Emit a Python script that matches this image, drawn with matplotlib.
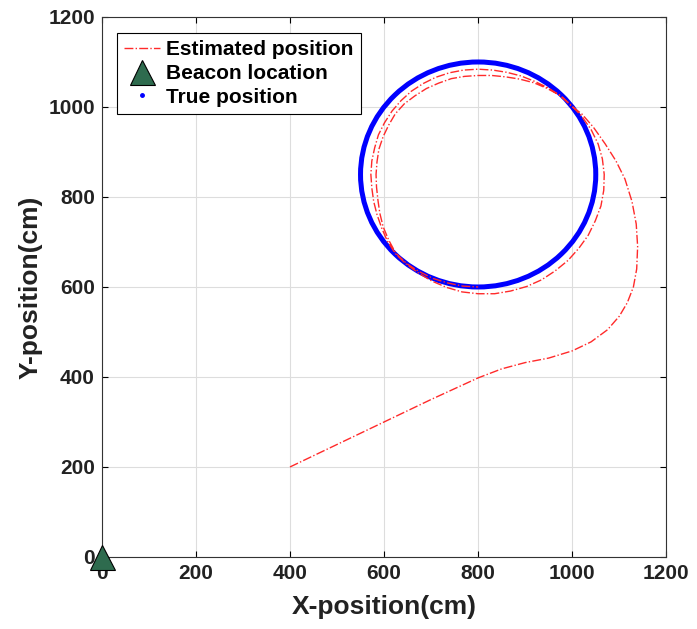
import matplotlib
matplotlib.use("Agg")
import matplotlib.pyplot as plt
from matplotlib.lines import Line2D
from matplotlib.patches import Circle

plt.rcParams['font.family'] = ['Liberation Sans', 'DejaVu Sans']
plt.rcParams['font.weight'] = 'bold'

# ---- data (cm) ----
# estimated trajectory: approach leg, then two loops around the true circle
est_x = [400, 500, 600, 700, 800, 850, 900, 950, 1000, 1040, 1075, 1100, 1117, 1130,
         1137, 1139, 1136, 1127, 1112, 1093, 1070, 1045, 1020,
         998, 975, 948, 920, 891, 861, 831, 800, 769, 739, 710, 683, 658, 636, 617, 601,
         588, 580, 574, 572, 574, 578, 585, 595, 607, 624, 647, 673, 702, 733, 766,
         800, 835, 869, 903, 935, 964, 991, 1014, 1034, 1049, 1061, 1067, 1068, 1064,
         1055, 1040, 1021, 999,
         975, 947, 918, 888, 858, 829, 800, 771, 743, 716, 690, 666, 643, 624, 610,
         598, 589, 585, 583, 584, 587, 591, 598, 610, 625, 648, 675, 704, 735, 767, 800]
est_y = [200, 250, 300, 350, 398, 418, 432, 442, 458, 478, 505, 535, 565, 600,
         640, 690, 740, 790, 840, 880, 918, 955, 985,
         1002, 1025, 1043, 1057, 1069, 1077, 1082, 1084, 1082, 1076, 1066, 1052, 1035,
         1014, 991, 965, 938, 909, 880, 850, 820, 790, 761, 731, 702, 674, 651, 631, 613,
         599, 589, 585, 585, 591, 601, 616, 636, 659, 686, 715, 747, 780, 815, 850, 885,
         918, 950, 978, 1003,
         1025, 1041, 1054, 1062, 1067, 1070, 1070, 1068, 1063, 1053, 1041, 1025, 1007,
         985, 960, 934, 906, 878, 850, 822, 793, 764, 734, 704, 675, 652, 634, 619, 609,
         602, 600]

# true trajectory: circle
true_center = (800, 850)
true_radius = 250

beacon_x = [0]
beacon_y = [0]

ticks = [0, 200, 400, 600, 800, 1000, 1200]

fig = plt.figure(figsize=(6.97, 6.29), dpi=100)
ax = fig.add_axes([0.146, 0.1145, 0.81, 0.8585])

ax.add_patch(Circle(true_center, true_radius, fill=False, edgecolor='#0000ff',
                    lw=3.6, zorder=2))
ax.plot(est_x, est_y, color='#ff2a2a', lw=1.0, linestyle='-.', zorder=3)
ax.plot(beacon_x, beacon_y, marker='^', markersize=18, color='#2e6b4e',
        markeredgecolor='black', markeredgewidth=0.8, linestyle='none',
        clip_on=False, zorder=5)

ax.set_xlim(0, 1200)
ax.set_ylim(0, 1200)
ax.set_xticks(ticks)
ax.set_yticks(ticks)
ax.grid(True, color='#dddddd', lw=0.8)
ax.set_axisbelow(True)
ax.tick_params(direction='in', top=True, right=True, labelsize=15, length=4, width=0.8,
               pad=5)
for s in ax.spines.values():
    s.set_color('#333333')
    s.set_linewidth(0.8)
for lab in ax.get_xticklabels() + ax.get_yticklabels():
    lab.set_fontweight('bold')
    lab.set_color('#222222')

ax.set_xlabel('X-position(cm)', fontsize=19, fontweight='bold', labelpad=9, color='#222222')
ax.set_ylabel('Y-position(cm)', fontsize=19, fontweight='bold', labelpad=4, color='#222222')

handles = [
    Line2D([], [], color='#ff2a2a', lw=1.0, linestyle='-.'),
    Line2D([], [], marker='^', markersize=18, color='#2e6b4e', markeredgecolor='black',
           markeredgewidth=0.8, linestyle='none'),
    Line2D([], [], marker='.', markersize=5, color='#0000ff', linestyle='none'),
]
leg = ax.legend(handles, ['Estimated position', 'Beacon location', 'True position'],
                loc='upper left', bbox_to_anchor=(0.027, 0.970), borderaxespad=0,
                frameon=True, fancybox=False, edgecolor='black', framealpha=1,
                handlelength=1.7, handletextpad=0.3, borderpad=0.35, labelspacing=0.22,
                prop={'weight': 'bold', 'size': 15})
leg.get_frame().set_linewidth(0.8)

fig.savefig('out.png', dpi=100)
